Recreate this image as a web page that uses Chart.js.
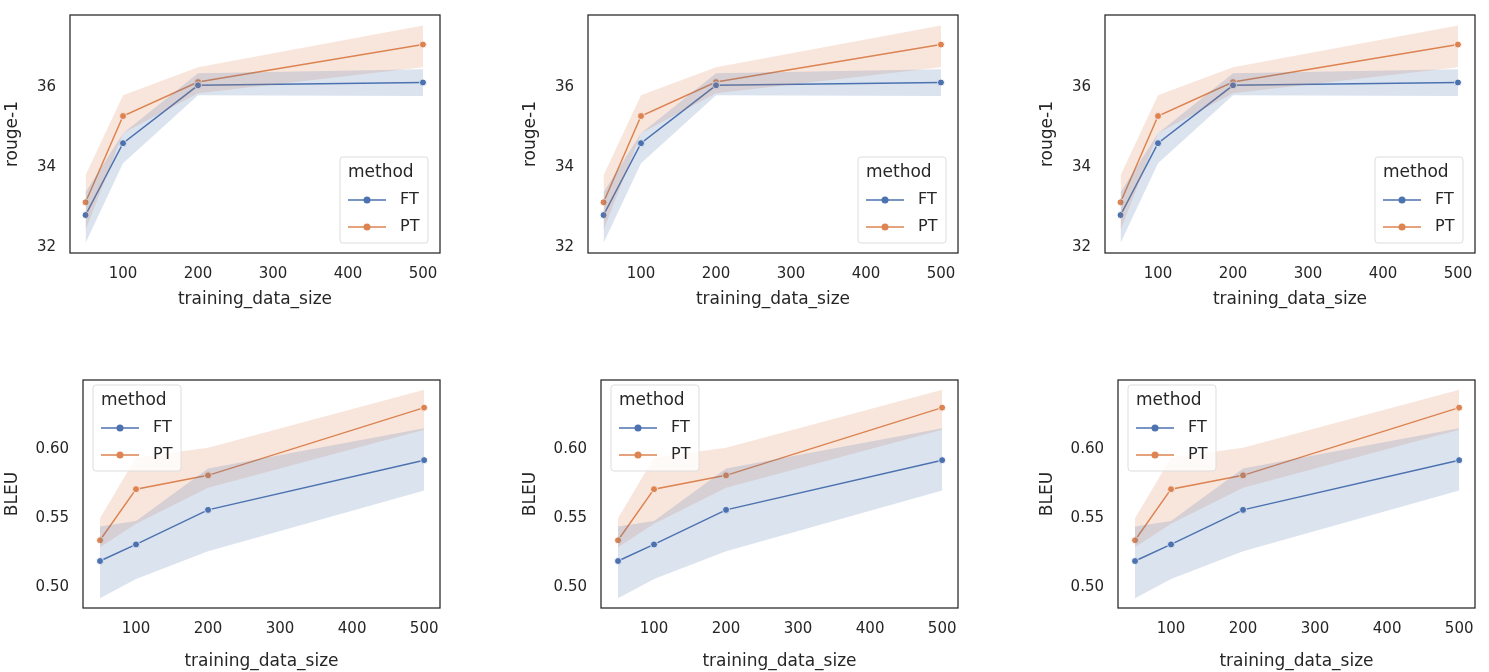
<!DOCTYPE html>
<html><head><meta charset="utf-8">
<script src="https://cdn.jsdelivr.net/npm/chart.js@4/dist/chart.umd.min.js"></script>
<style>
body{margin:0;background:#fff;width:1489px;height:672px;position:relative;overflow:hidden}
.p{position:absolute}
</style></head><body>
<script>
// data
const sizes = [50, 100, 200, 500];
const xTicks = [100, 200, 300, 400, 500];

const rougeFT = [32.8, 34.6, 36.05, 36.12];
const rougeFTlo = [32.1, 34.1, 35.8, 35.78];
const rougeFThi = [33.37, 34.85, 36.35, 36.45];
const rougePT = [33.12, 35.28, 36.13, 37.07];
const rougePTlo = [32.42, 34.85, 35.85, 36.5];
const rougePThi = [33.8, 35.8, 36.5, 37.55];
const rougeTicks = [32, 34, 36];

const bleuFT = [0.519, 0.531, 0.556, 0.592];
const bleuFTlo = [0.492, 0.506, 0.526, 0.570];
const bleuFThi = [0.544, 0.548, 0.586, 0.615];
const bleuPT = [0.534, 0.571, 0.581, 0.630];
const bleuPTlo = [0.529, 0.546, 0.572, 0.614];
const bleuPThi = [0.550, 0.594, 0.601, 0.643];
const bleuTicks = [0.50, 0.55, 0.60];

const BLUE = '#4c72b0', ORANGE = '#dd8452', INK = '#262626';
const FONT = 'DejaVu Sans';

const pts = ys => ys.map((y, i) => ({x: sizes[i], y}));

function bandSets(lo, hi, col) {
    return [
        {data: pts(lo), borderWidth: 0, pointRadius: 0, fill: false, backgroundColor: col},
        {data: pts(hi), borderWidth: 0, pointRadius: 0, fill: '-1', backgroundColor: col}
    ];
}
function lineSet(ys, col) {
    return {data: pts(ys), borderColor: col, backgroundColor: col, borderWidth: 1.5,
        pointRadius: 3.5, pointBorderColor: '#fff', pointBorderWidth: 1, fill: false};
}

const frame = {
    id: 'frame',
    afterDraw(chart, args, o) {
        const c = chart.ctx, a = chart.chartArea;
        c.save();
        c.strokeStyle = INK; c.lineWidth = 1.25;
        c.strokeRect(a.left, a.top, a.right - a.left, a.bottom - a.top);
        // legend box
        const [lx, ly] = o.pos;
        c.fillStyle = 'rgba(255,255,255,0.8)';
        c.strokeStyle = '#dddddd'; c.lineWidth = 1;
        c.beginPath(); c.roundRect(lx, ly, 88, 86, 3); c.fill(); c.stroke();
        c.fillStyle = INK; c.font = '17px ' + FONT; c.textBaseline = 'middle';
        c.fillText('method', lx + 8, ly + 16);
        [['FT', BLUE], ['PT', ORANGE]].forEach(([t, col], i) => {
            const yy = ly + 43 + i * 27;
            c.strokeStyle = col; c.lineWidth = 1.5;
            c.beginPath(); c.moveTo(lx + 8, yy); c.lineTo(lx + 46, yy); c.stroke();
            c.fillStyle = col; c.beginPath(); c.arc(lx + 27, yy, 3.5, 0, Math.PI * 2); c.fill();
            c.fillStyle = INK; c.font = '16px ' + FONT; c.fillText(t, lx + 60, yy);
        });
        c.restore();
    }
};

function panel(left, top, w, h, cfg) {
    const cv = document.createElement('canvas');
    cv.className = 'p';
    cv.style.left = left + 'px'; cv.style.top = top + 'px';
    cv.style.width = w + 'px'; cv.style.height = h + 'px';
    document.body.appendChild(cv);
    new Chart(cv, {
        type: 'line',
        data: {datasets: [
            ...bandSets(cfg.ftLo, cfg.ftHi, 'rgba(76,114,176,0.2)'),
            ...bandSets(cfg.ptLo, cfg.ptHi, 'rgba(221,132,82,0.2)'),
            lineSet(cfg.ft, BLUE), lineSet(cfg.pt, ORANGE)
        ]},
        options: {
            responsive: false, animation: false,
            layout: {padding: {top: cfg.padTop, right: 10, left: 0, bottom: 0}},
            plugins: {legend: {display: false}, tooltip: {enabled: false}, frame: {pos: cfg.legend}},
            scales: {
                x: {type: 'linear', min: cfg.xmin, max: cfg.xmax,
                    afterBuildTicks: s => { s.ticks = xTicks.map(v => ({value: v})); },
                    afterFit: s => { s.height = cfg.xh; },
                    grid: {display: false}, border: {display: false},
                    ticks: {color: INK, font: {family: FONT, size: 15}, padding: 4},
                    title: {display: true, text: 'training_data_size', color: INK,
                        font: {family: FONT, size: 17}, padding: 0}},
                y: {min: cfg.ymin, max: cfg.ymax,
                    afterBuildTicks: s => { s.ticks = cfg.yTicks.map(v => ({value: v})); },
                    afterFit: s => { s.width = cfg.yw; },
                    grid: {display: false}, border: {display: false},
                    ticks: {color: INK, font: {family: FONT, size: 15}, padding: 6,
                        callback: v => cfg.fmt(v)},
                    title: {display: true, text: cfg.ylabel, color: INK,
                        font: {family: FONT, size: 17}, padding: 2}}
            }
        },
        plugins: [frame]
    });
}

const colX = [0, 517.5, 1035];
colX.forEach(cx => {
    panel(cx, 0, 450, 310, {
        ft: rougeFT, ftLo: rougeFTlo, ftHi: rougeFThi, pt: rougePT, ptLo: rougePTlo, ptHi: rougePThi,
        yTicks: rougeTicks, ymin: 31.85, ymax: 37.81, xmin: 29.3, xmax: 522.7,
        padTop: 13, xh: 57, yw: 70, ylabel: 'rouge-1', fmt: v => String(v), legend: [340, 157]
    });
    panel(cx, 365, 450, 307, {
        ft: bleuFT, ftLo: bleuFTlo, ftHi: bleuFThi, pt: bleuPT, ptLo: bleuPTlo, ptHi: bleuPThi,
        yTicks: bleuTicks, ymin: 0.485, ymax: 0.650, xmin: 26.4, xmax: 522,
        padTop: 11, xh: 64, yw: 83, ylabel: 'BLEU', fmt: v => v.toFixed(2), legend: [93, 20]
    });
});
</script>
</body></html>
